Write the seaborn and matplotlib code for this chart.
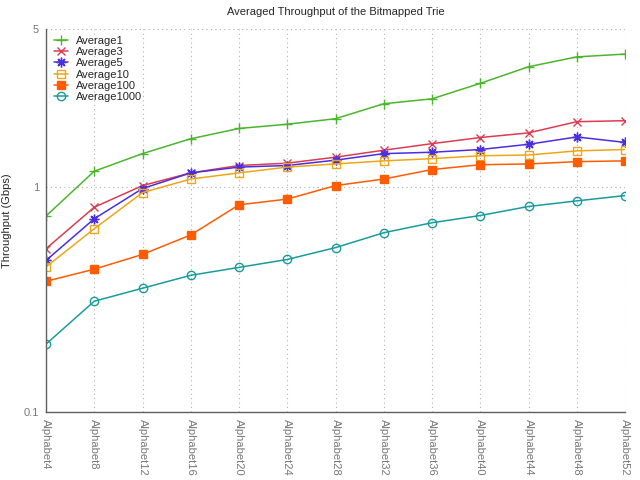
import numpy as np
import pandas as pd
import matplotlib
matplotlib.use('Agg')
import matplotlib.pyplot as plt
import seaborn as sns

# x categories
alphabets = ['Alphabet4', 'Alphabet8', 'Alphabet12', 'Alphabet16', 'Alphabet20',
             'Alphabet24', 'Alphabet28', 'Alphabet32', 'Alphabet36', 'Alphabet40',
             'Alphabet44', 'Alphabet48', 'Alphabet52']

# throughput values (Gbps)
average1 = [0.74, 1.17, 1.40, 1.63, 1.81, 1.89, 2.00, 2.33, 2.45, 2.87, 3.40, 3.76, 3.87]
average3 = [0.53, 0.81, 1.01, 1.15, 1.24, 1.27, 1.35, 1.45, 1.55, 1.65, 1.73, 1.94, 1.96]
average5 = [0.47, 0.72, 0.98, 1.15, 1.22, 1.24, 1.31, 1.40, 1.42, 1.46, 1.54, 1.66, 1.57]
average10 = [0.44, 0.65, 0.94, 1.08, 1.15, 1.22, 1.26, 1.30, 1.33, 1.37, 1.38, 1.44, 1.46]
average100 = [0.38, 0.43, 0.50, 0.61, 0.83, 0.88, 1.01, 1.08, 1.19, 1.25, 1.26, 1.29, 1.30]
average1000 = [0.20, 0.31, 0.354, 0.404, 0.438, 0.475, 0.536, 0.624, 0.691, 0.744, 0.816, 0.864, 0.912]

series_names = ['Average1', 'Average3', 'Average5', 'Average10', 'Average100', 'Average1000']
series_values = [average1, average3, average5, average10, average100, average1000]

# gnuplot-like styles
colors = ['#4cb52e', '#dc3c52', '#4a2fe0', '#eca617', '#ff5b00', '#1a9b9b']
markers = ['+', 'x', (8, 2, 0), 's', 's', 'o']
filled = [True, True, True, False, True, False]
sizes = [7, 6, 7, 5.5, 6, 6]

sns.set_style('white')
plt.rcParams['font.family'] = ['Liberation Sans', 'DejaVu Sans']

fig = plt.figure(figsize=(6.4, 4.8), dpi=100)
ax = fig.add_axes([46 / 640, 68 / 480, 579 / 640, 383 / 480])

for name, vals, c, m, f, s in zip(series_names, series_values, colors, markers, filled, sizes):
    df = pd.DataFrame({'alphabet': alphabets, 'throughput': vals})
    sns.lineplot(data=df, x='alphabet', y='throughput', ax=ax, color=c, lw=1.1,
                 marker=m, markersize=s, markeredgewidth=1.0,
                 markerfacecolor=(c if f else 'none'), markeredgecolor=c,
                 label=name, sort=False)

ax.set_yscale('log')
ax.set_ylim(0.1, 5)
ax.set_xlim(0, len(alphabets) - 1)
ax.set_yticks([0.1, 1, 5])
ax.set_yticklabels(['0.1', '1', '5'])
ax.yaxis.set_minor_locator(matplotlib.ticker.NullLocator())
ax.set_xticks(range(len(alphabets)))
ax.set_xticklabels(alphabets, rotation=270, va='top', ha='center')

ax.tick_params(axis='both', direction='in', length=4, width=0.8, colors='#606060',
               labelsize=8, labelcolor='#777777', pad=5)
ax.grid(True, which='major', color='#b0b0b0', linestyle=(0, (1, 3)), linewidth=0.8)

for side in ['top', 'right']:
    ax.spines[side].set_visible(False)
for side in ['left', 'bottom']:
    ax.spines[side].set_color('#606060')
    ax.spines[side].set_linewidth(1.0)

ax.set_xlabel('')
ax.set_ylabel('Throughput (Gbps)', fontsize=8)
ax.yaxis.set_label_coords(-0.059, 0.5)
ax.set_title('Averaged Throughput of the Bitmapped Trie', fontsize=8, pad=10)

leg = ax.legend(loc='upper left', frameon=False, fontsize=8, handlelength=1.2,
                handletextpad=0.7, labelspacing=0.12, borderaxespad=0.2,
                bbox_to_anchor=(0.003, 1.0))

fig.savefig('out.png', dpi=100)
